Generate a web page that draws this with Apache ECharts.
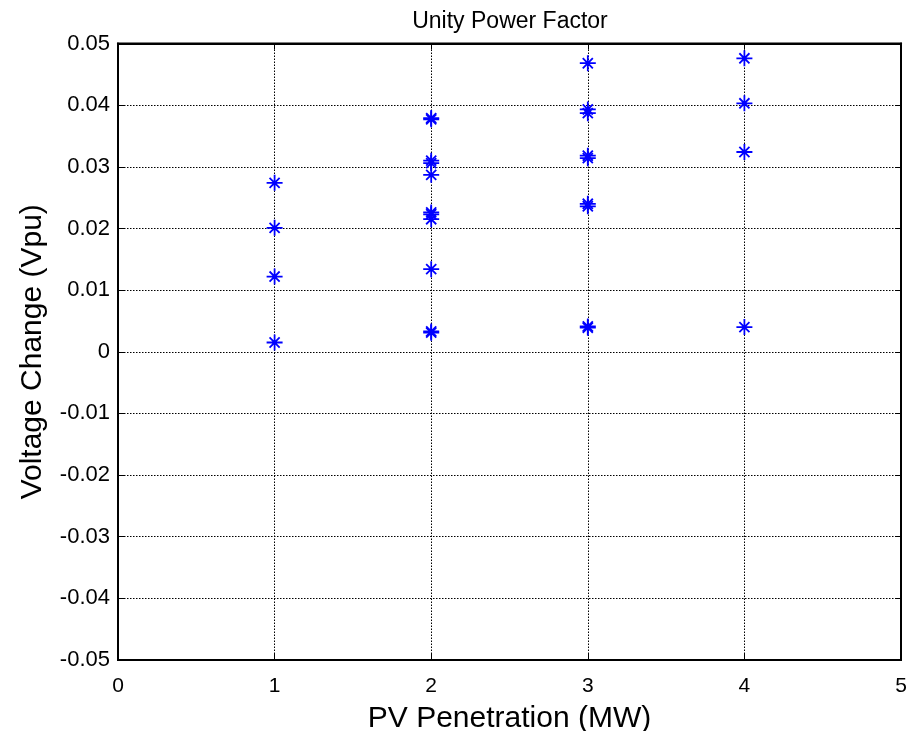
<!DOCTYPE html>
<html>
<head>
<meta charset="utf-8">
<script src="https://cdn.jsdelivr.net/npm/echarts@6/dist/echarts.min.js"></script>
<style>html,body{margin:0;padding:0;background:#fff;}#chart{width:911px;height:731px;}</style>
</head>
<body>
<div id="chart"></div>
<script>
// PV penetration levels (MW)
const penetrationLevels = [1, 2, 3, 4];
// Voltage change (Vpu) observed at each penetration level
const voltageAt1MW = [0.0274, 0.0201, 0.0122, 0.0015];
const voltageAt2MW = [0.0377, 0.0379, 0.0306, 0.0310, 0.0287, 0.0223, 0.0226, 0.0215, 0.0134, 0.0031, 0.0033];
const voltageAt3MW = [0.0468, 0.0387, 0.0393, 0.0314, 0.0318, 0.0236, 0.0240, 0.0039, 0.0041];
const voltageAt4MW = [0.0476, 0.0403, 0.0324, 0.0040];
const xTicks = [0, 1, 2, 3, 4, 5];
const yTickLabels = ['-0.05','-0.04','-0.03','-0.02','-0.01','0','0.01','0.02','0.03','0.04','0.05'];

const groups = [voltageAt1MW, voltageAt2MW, voltageAt3MW, voltageAt4MW];
const points = [];
groups.forEach((arr, i) => arr.forEach(v => points.push([penetrationLevels[i], v])));

const star = 'path://M0,8.9L20,8.9L20,11.1L0,11.1Z M8.9,0L11.1,0L11.1,20L8.9,20Z M2.9,4.5L4.5,2.9L17.1,15.5L15.5,17.1Z M15.5,2.9L17.1,4.5L4.5,17.1L2.9,15.5Z';

const font = 'Liberation Sans, Arial, Helvetica, sans-serif';
const chart = echarts.init(document.getElementById('chart'), null, {renderer: 'canvas'});

function yFmt(v) {
  const idx = Math.round((v + 0.05) / 0.01);
  return yTickLabels[idx] !== undefined ? yTickLabels[idx] : '';
}

chart.setOption({
  animation: false,
  backgroundColor: '#ffffff',
  title: {
    text: 'Unity Power Factor',
    left: 505, top: 5, textAlign: 'center',
    textStyle: {fontFamily: font, fontSize: 23, fontWeight: 'normal', color: '#000'}
  },
  grid: {left: 118, right: 10, top: 43.5, bottom: 71, show: true, borderColor: '#000', borderWidth: 2,
         backgroundColor: 'transparent', containLabel: false, outerBoundsMode: 'none'},
  xAxis: [{
    type: 'value', min: xTicks[0], max: xTicks[xTicks.length - 1], interval: 1,
    name: 'PV Penetration (MW)', nameLocation: 'middle', nameGap: 44,
    nameTextStyle: {fontFamily: font, fontSize: 30, color: '#000'},
    axisLine: {show: true, onZero: false, lineStyle: {color: '#000', width: 2}},
    axisTick: {show: true, inside: true, length: 6, lineStyle: {color: '#000'}},
    axisLabel: {fontFamily: font, fontSize: 21, color: '#000', margin: 16},
    splitLine: {show: true, lineStyle: {color: '#000', type: [1.5, 1.5], width: 1}}
  }, {
    type: 'value', position: 'top', min: 0, max: 5, interval: 1,
    axisLine: {show: true, onZero: false, lineStyle: {color: '#000', width: 2}},
    axisTick: {show: true, inside: true, length: 6, lineStyle: {color: '#000'}},
    axisLabel: {show: false}, splitLine: {show: false}
  }],
  yAxis: [{
    type: 'value', min: -0.05, max: 0.05, interval: 0.01,
    name: 'Voltage Change (Vpu)', nameLocation: 'middle', nameGap: 70,
    nameTextStyle: {fontFamily: font, fontSize: 30, color: '#000'},
    axisLine: {show: true, onZero: false, lineStyle: {color: '#000', width: 2}},
    axisTick: {show: true, inside: true, length: 6, lineStyle: {color: '#000'}},
    axisLabel: {fontFamily: font, fontSize: 22, color: '#000', margin: 8, formatter: yFmt},
    splitLine: {show: true, lineStyle: {color: '#000', type: [1.5, 1.5], width: 1}}
  }, {
    type: 'value', position: 'right', min: -0.05, max: 0.05, interval: 0.01,
    axisLine: {show: true, onZero: false, lineStyle: {color: '#000', width: 2}},
    axisTick: {show: true, inside: true, length: 6, lineStyle: {color: '#000'}},
    axisLabel: {show: false}, splitLine: {show: false}
  }],
  series: [{
    type: 'scatter',
    data: points,
    symbol: star,
    symbolSize: 16,
    itemStyle: {color: '#0000ff', opacity: 1},
    z: 5
  }]
});
</script>
</body>
</html>
